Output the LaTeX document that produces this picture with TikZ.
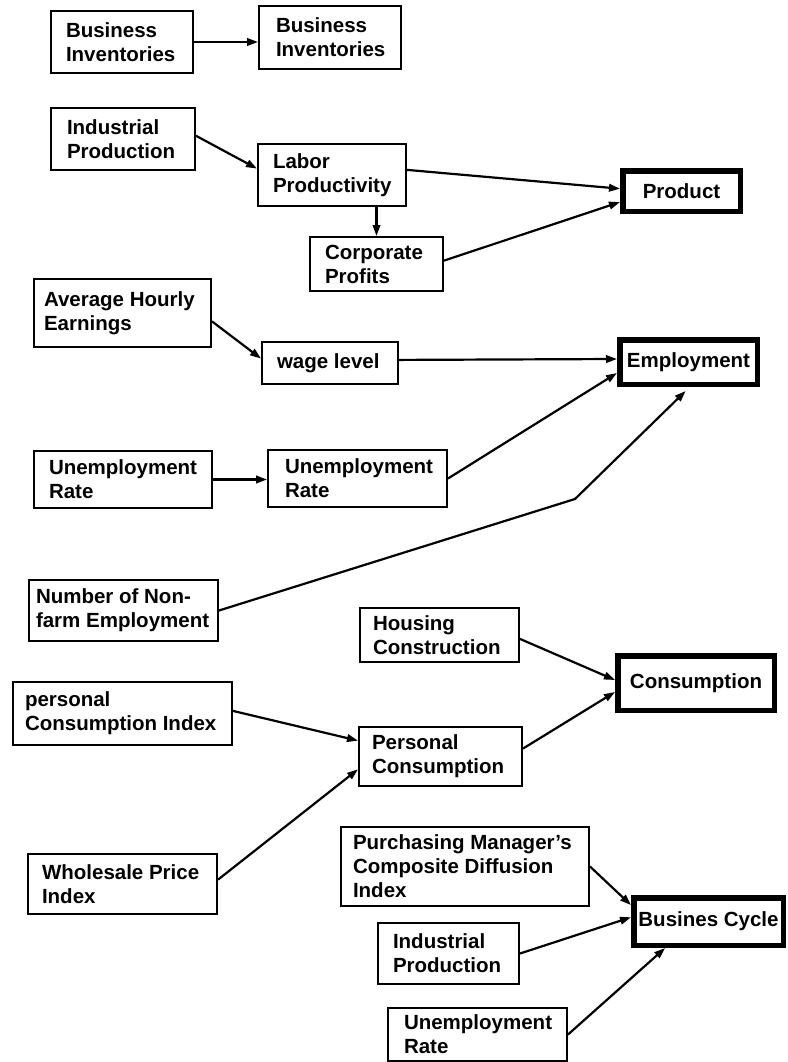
\documentclass[tikz,border=0pt]{standalone}
\usepackage{fontspec}
\setmainfont{Liberation Sans}
\usetikzlibrary{calc,arrows.meta}
\hyphenpenalty=10000
\exhyphenpenalty=10000

\tikzset{
  every node/.style={font=\bfseries\fontsize{20.5}{24}\selectfont},
  box/.style={draw, line width=2pt, anchor=north west, align=flush left, inner ysep=0pt},
  goal/.style={draw, line width=5.5pt, align=center, inner sep=0pt},
  link/.style={line width=2.2pt, -{Triangle[length=11pt,width=7.5pt]}},
}

\begin{document}
\begin{tikzpicture}[x=1pt, y=-1pt]
\fill[white] (0,0) rectangle (787,1062);
\useasboundingbox (0,0) rectangle (787,1062);

% indicator boxes (top-left corner, height, left padding, text width)
\node[box, minimum height=62, inner xsep=15, text width=112] (bi1) at (50,10) {Business\\Inventories};
\node[box, minimum height=63, inner xsep=17, text width=108] (bi2) at (258,5) {Business\\Inventories};
\node[box, minimum height=62, inner xsep=16, text width=112] (ip1) at (50,107) {Industrial\\Production};
\node[box, minimum height=62, inner xsep=15, text width=118] (lp) at (257,143) {Labor\\Productivity};
\node[box, minimum height=54, inner xsep=15, text width=103] (cp) at (309,236) {Corporate\\Profits};
\node[box, minimum height=68, inner xsep=10, text width=157] (ahe) at (33,278) {Average Hourly\\Earnings};
\node[box, minimum height=42, inner xsep=15, text width=106] (wage) at (261,341) {wage level};
\node[box, minimum height=57, inner xsep=15, text width=148] (ur1) at (33,450) {Unemployment\\Rate};
\node[box, minimum height=57, inner xsep=17, text width=145] (ur2) at (267,449) {Unemployment\\Rate};
\node[box, minimum height=61, inner xsep=7, text width=175] (nne) at (28,579) {Number of Non-\\farm Employment};
\node[box, minimum height=54, inner xsep=13, text width=133] (hc) at (359,607) {Housing\\Construction};
\node[box, minimum height=63, inner xsep=12, text width=195] (pci) at (12,681) {personal\\Consumption Index};
\node[box, minimum height=59, inner xsep=13, text width=137] (pc) at (358,726) {Personal\\Consumption};
\node[box, minimum height=60, inner xsep=14, text width=161] (wpi) at (27,853) {Wholesale Price\\Index};
\node[box, minimum height=79, inner xsep=12, text width=224] (pmi) at (340,826) {Purchasing Manager's\\Composite Diffusion\\Index};
\node[box, minimum height=61, inner xsep=15, text width=111] (ip2) at (377,922) {Industrial\\Production};
\node[box, minimum height=53, inner xsep=16, text width=147] (ur3) at (387,1007) {Unemployment\\Rate};

% target boxes with heavy frames
\node[goal, minimum width=117.5, minimum height=40.5] (prod) at (681.5,191) {Product};
\node[goal, minimum width=137.5, minimum height=44.5] (emp) at (688.5,362) {Employment};
\node[goal, minimum width=156.5, minimum height=54.5] (cons) at (696,683) {Consumption};
\node[goal, minimum width=149.5, minimum height=47.5] (bc) at (708.5,921.5) {Busines Cycle};

% connectors
\draw[link] (bi1.east) -- (bi1.east -| bi2.west);
\draw[link] ($(ip1.north east)!0.45!(ip1.south east)$) -- ($(lp.north west)!0.4!(lp.south west)$);
\draw[link] (cp.north |- lp.south) -- (cp.north);
\draw[link] ($(lp.north east)!0.42!(lp.south east)$) -- ($(prod.north west)!0.45!(prod.south west)$);
\draw[link] ($(cp.north east)!0.44!(cp.south east)$) -- ($(prod.north west)!0.74!(prod.south west)$);

\draw[link] ($(ahe.north east)!0.62!(ahe.south east)$) -- ($(wage.north west)!0.4!(wage.south west)$);
\draw[link] ($(wage.north east)!0.43!(wage.south east)$) -- ($(emp.north west)!0.44!(emp.south west)$);
\draw[link] (ur1.east) -- (ur1.east -| ur2.west);
\draw[link] (ur2.east) -- ($(emp.north west)!0.72!(emp.south west)$);
\coordinate (bend) at (575,499);
\draw[link] (nne.east) -- (bend) -- ($(emp.south west)!0.48!(emp.south east) + (0,4)$);

\draw[link] ($(hc.north east)!0.57!(hc.south east)$) -- ($(cons.north west)!0.45!(cons.south west)$);
\draw[link] ($(pci.north east)!0.46!(pci.south east)$) -- ($(pc.north west)!0.24!(pc.south west)$);
\draw[link] ($(wpi.north east)!0.43!(wpi.south east)$) -- ($(pc.north west)!0.71!(pc.south west)$);
\draw[link] ($(pc.north east)!0.37!(pc.south east)$) -- ($(cons.north west)!0.65!(cons.south west)$);

\draw[link] (pmi.east) -- ($(bc.north west)!0.19!(bc.south west)$);
\draw[link] (ip2.east) -- ($(bc.north west)!0.42!(bc.south west)$);
\draw[link] (ur3.east) -- ($(bc.south west)!0.22!(bc.south east)$);
\end{tikzpicture}
\end{document}
